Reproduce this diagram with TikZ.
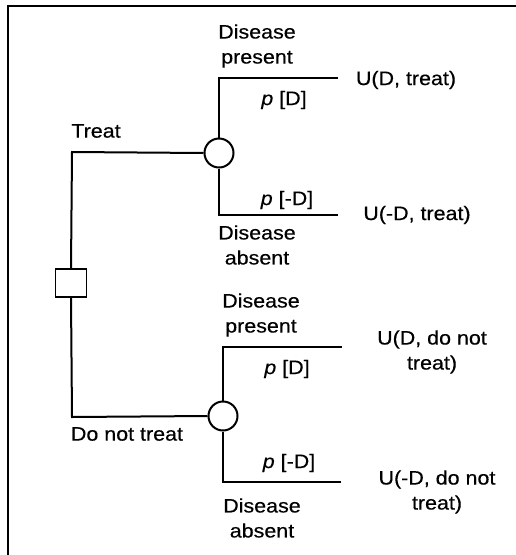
\documentclass[tikz,border=0pt]{standalone}
\usepackage{fontspec}
\setmainfont[FakeStretch=1.1,FakeBold=0.4]{Liberation Sans}
\begin{document}
\begin{tikzpicture}[x=1pt,y=-1pt,
  every node/.style={font=\fontsize{19.5}{25}\selectfont},
  br/.style={line width=2pt},
  lbl/.style={inner sep=0pt, align=center},
  chance/.style={draw, circle, line width=2pt, minimum size=29pt, inner sep=0pt},
  decision/.style={draw, rectangle, line width=1.5pt, minimum width=31pt, minimum height=28pt, inner sep=0pt}]
\useasboundingbox (0,0) rectangle (516,555);
\draw[line width=2.2pt] (8,555) -- (8,6) -- (516,6);
% nodes
\node[decision] (sq) at (71,283) {};
\node[chance] (c1) at (219,153) {};
\node[chance] (c2) at (223,416) {};
\coordinate (t1) at (72,152);
\coordinate (t2) at (72,417);
\coordinate (a1) at (219,78);
\coordinate (a2) at (338,78);
\coordinate (b1) at (219,215);
\coordinate (b2) at (338,215);
\coordinate (d1) at (223,347);
\coordinate (d2) at (342,347);
\coordinate (e1) at (223,482);
\coordinate (e2) at (341,482);
% branches
\draw[br] (sq.north) -- (t1) -- (c1.west);
\draw[br] (sq.south) -- (t2) -- (c2.west);
\draw[br] (c1.north) -- (a1) -- (a2);
\draw[br] (c1.south) -- (b1) -- (b2);
\draw[br] (c2.north) -- (d1) -- (d2);
\draw[br] (c2.south) -- (e1) -- (e2);
% labels
\node[lbl] (lt) at (96,131) {Treat};
\node[lbl] (ldn) at (127,434) {Do not treat};
\node[lbl] (dp1) at (257,46) {Disease\\present};
\node[lbl] (pd1) at (284,100) {\textit{p} [D]};
\node[lbl] (u1) at (406,80) {U(D, treat)};
\node[lbl] (pn1) at (287,200) {\textit{p} [-D]};
\node[lbl] (u2) at (417,215) {U(-D, treat)};
\node[lbl] (da1) at (257,245) {Disease\\absent};
\node[lbl] (dp2) at (261,315) {Disease\\present};
\node[lbl] (pd2) at (287,369) {\textit{p} [D]};
\node[lbl] (u3) at (432,352) {U(D, do not\\treat)};
\node[lbl] (pn2) at (289,463) {\textit{p} [-D]};
\node[lbl] (u4) at (437,492) {U(-D, do not\\treat)};
\node[lbl] (da2) at (262,518) {Disease\\absent};
\end{tikzpicture}
\end{document}
